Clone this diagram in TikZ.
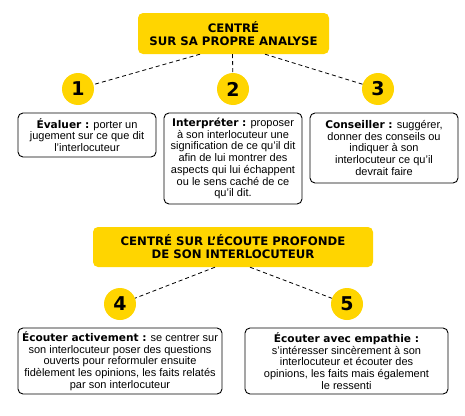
\documentclass[tikz,border=0pt]{standalone}
\usepackage{fontspec}
\setmainfont{Liberation Sans}
\newfontfamily\heavy{DejaVu Sans Bold}
\definecolor{ylw}{HTML}{FFD500}
\newcommand{\lbl}[1]{{\heavy\fontsize{10.6}{11.7}\selectfont #1}}
\begin{document}
\begin{tikzpicture}[x=1pt,y=-1pt,
  header/.style={fill=ylw, rounded corners=5pt, font=\heavy\fontsize{11.7}{13.3}\selectfont, align=center, inner sep=0pt},
  num/.style={circle, fill=ylw, minimum size=32pt, inner sep=0pt, font=\heavy\fontsize{19}{19}\selectfont},
  desc/.style={draw=black, line width=0.9pt, rounded corners=5pt, align=center, inner sep=0pt, font=\fontsize{11}{11.7}\selectfont},
  link/.style={black, line width=0.8pt, dash pattern=on 4pt off 3pt}]
\useasboundingbox (0,0) rectangle (465,415);
% first group
\node[header, minimum width=191pt, minimum height=41pt] (h1) at (233.5,33.5) {CENTRÉ\\SUR SA PROPRE ANALYSE};
\node[num] (c1) at (78,89) {1};
\node[num] (c2) at (233,89) {2};
\node[num] (c3) at (378,89) {3};
\draw[link] ([xshift=-33.5pt]h1.south) -- (c1);
\draw[link] ([xshift=-1pt]h1.south) -- (c2);
\draw[link] ([xshift=31.5pt]h1.south) -- (c3);
\node[desc, minimum width=138pt, minimum height=44pt] (b1) at (87,135) {\lbl{Évaluer :} porter un\\jugement sur ce que dit\\l’interlocuteur};
\node[desc, minimum width=138pt, minimum height=91pt] (b2) at (233,158.5) {\lbl{Interpréter :} proposer\\à son interlocuteur une\\signification de ce qu’il dit\\afin de lui montrer des\\aspects qui lui échappent\\ou le sens caché de ce\\qu’il dit.};
\node[desc, minimum width=148pt, minimum height=70pt] (b3) at (384,148) {\lbl{Conseiller :} suggérer,\\donner des conseils ou\\indiquer à son\\interlocuteur ce qu’il\\devrait faire};
% second group
\node[header, minimum width=280pt, minimum height=40pt] (h2) at (233,247) {CENTRÉ SUR L’ÉCOUTE PROFONDE\\DE SON INTERLOCUTEUR};
\node[num] (c4) at (120,304) {4};
\node[num] (c5) at (347,304) {5};
\draw[link] ([xshift=-18pt]h2.south) -- (c4);
\draw[link] ([xshift=17pt]h2.south) -- (c5);
\node[desc, minimum width=204pt, minimum height=66pt] (b4) at (120,361) {\lbl{Écouter activement :} se centrer sur\\son interlocuteur poser des questions\\ouverts pour reformuler ensuite\\fidèlement les opinions, les faits relatés\\par son interlocuteur};
\node[desc, minimum width=203pt, minimum height=66pt] (b5) at (346.5,361) {\lbl{Écouter avec empathie :}\\s’intéresser sincèrement à son\\interlocuteur et écouter des\\opinions, les faits mais également\\le ressenti};
\end{tikzpicture}
\end{document}
